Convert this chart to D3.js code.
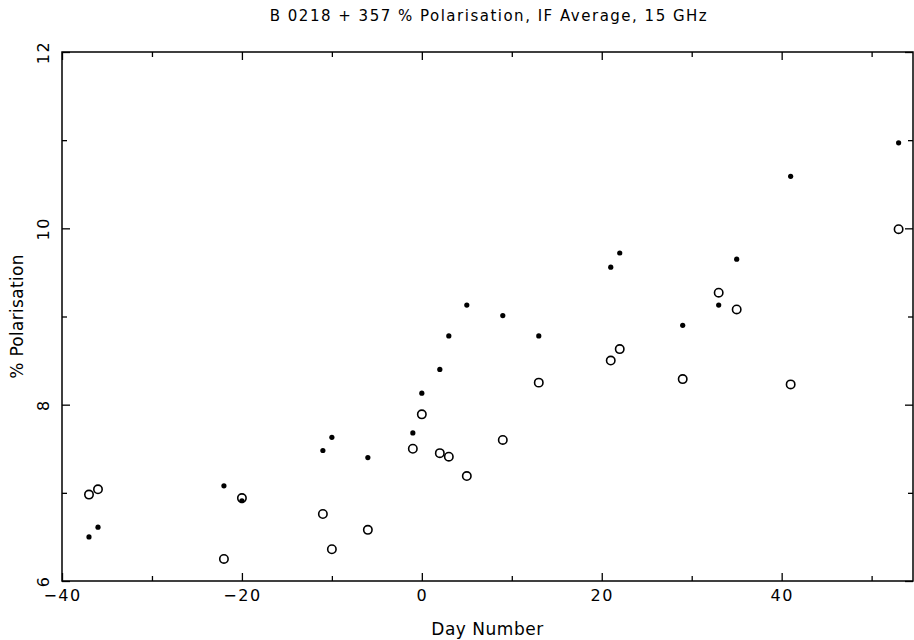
<!DOCTYPE html>
<html>
<head>
<meta charset="utf-8">
<script src="https://cdn.jsdelivr.net/npm/d3@7"></script>
<style>
  body { margin: 0; background: #fff; }
  text { font-family: "DejaVu Sans", sans-serif; fill: #000; }
</style>
</head>
<body>
<div id="chart"></div>
<script>
// Day numbers and % polarisation (filled = one series, open = the other)
const days = [-37, -36, -22, -20, -11, -10, -6, -1, 0, 2, 3, 5, 9, 13, 21, 22, 29, 33, 35, 41, 53];
const filledPol = [6.50, 6.61, 7.08, 6.91, 7.48, 7.63, 7.40, 7.68, 8.13, 8.40, 8.78, 9.13, 9.01, 8.78, 9.56, 9.72, 8.90, 9.13, 9.65, 10.59, 10.97];
const openPol = [6.98, 7.04, 6.25, 6.94, 6.76, 6.36, 6.58, 7.50, 7.89, 7.45, 7.41, 7.19, 7.60, 8.25, 8.50, 8.63, 8.29, 9.27, 9.08, 8.23, 9.99];
const xMajor = [-40, -20, 0, 20, 40];
const xMinor = [-30, -10, 10, 30, 50];
const yMajor = [6, 8, 10, 12];
const yMinor = [7, 9, 11];

const W = 914, H = 640;
const plot = {left: 62, right: 913, top: 52, bottom: 581};

const svg = d3.select("#chart").append("svg")
    .attr("width", W)
    .attr("height", H);

const x = d3.scaleLinear().domain([-40, 54.6]).range([plot.left, plot.right]);
const y = d3.scaleLinear().domain([6, 12]).range([plot.bottom, plot.top]);

const fmt = d => d < 0 ? "\u2212" + Math.abs(d) : String(d);

// frame
svg.append("rect")
    .attr("x", plot.left).attr("y", plot.top)
    .attr("width", plot.right - plot.left).attr("height", plot.bottom - plot.top)
    .attr("fill", "none").attr("stroke", "#000").attr("stroke-width", 1.5);

// helper for inward ticks
function ticks(axisFn, scale, vals, len, pos, label) {
    const g = svg.append("g")
        .attr("transform", pos)
        .call(axisFn(scale).tickValues(vals).tickSize(len).tickSizeOuter(0)
            .tickFormat(label ? fmt : ""));
    g.select(".domain").remove();
    g.selectAll("line").attr("stroke", "#000").attr("stroke-width", 1.3);
    return g;
}

// bottom axis (ticks point up, labels below)
const xb = ticks(d3.axisBottom, x, xMajor, -8, `translate(0,${plot.bottom})`, true);
xb.selectAll("text")
    .attr("y", 20).attr("dy", null)
    .attr("font-size", 16)
    .attr("letter-spacing", 1.5);
ticks(d3.axisBottom, x, xMinor.filter(v => v < 54.6), -5, `translate(0,${plot.bottom})`, false);
// top axis
ticks(d3.axisTop, x, xMajor, -8, `translate(0,${plot.top})`, false);
ticks(d3.axisTop, x, xMinor.filter(v => v < 54.6), -5, `translate(0,${plot.top})`, false);

// left axis, rotated labels
const yl = ticks(d3.axisLeft, y, yMajor, -8, `translate(${plot.left},0)`, true);
yl.selectAll("text")
    .attr("x", null).attr("dy", null)
    .attr("text-anchor", "middle")
    .attr("font-size", 16)
    .attr("letter-spacing", 1.5)
    .attr("transform", "translate(-13,0) rotate(-90)");
ticks(d3.axisLeft, y, yMinor, -5, `translate(${plot.left},0)`, false);
// right axis
ticks(d3.axisRight, y, yMajor, -8, `translate(${plot.right},0)`, false);
ticks(d3.axisRight, y, yMinor, -5, `translate(${plot.right},0)`, false);

// points
const pts = days.map((d, i) => ({day: d, f: filledPol[i], o: openPol[i]}));

svg.append("g").selectAll("circle")
    .data(pts)
    .join("circle")
    .attr("cx", d => x(d.day))
    .attr("cy", d => y(d.o))
    .attr("r", 4.2)
    .attr("fill", "none")
    .attr("stroke", "#000")
    .attr("stroke-width", 1.6);

svg.append("g").selectAll("circle")
    .data(pts)
    .join("circle")
    .attr("cx", d => x(d.day))
    .attr("cy", d => y(d.f))
    .attr("r", 2.6)
    .attr("fill", "#000");

// labels
svg.append("text")
    .attr("x", 489).attr("y", 21)
    .attr("text-anchor", "middle")
    .attr("font-size", 15)
    .attr("letter-spacing", 1.5)
    .text("B 0218 + 357 % Polarisation, IF Average, 15 GHz");

svg.append("text")
    .attr("x", (plot.left + plot.right) / 2).attr("y", 635)
    .attr("text-anchor", "middle")
    .attr("font-size", 17)
    .attr("letter-spacing", 0.5)
    .text("Day Number");

svg.append("text")
    .attr("transform", `translate(23,${(plot.top + plot.bottom) / 2}) rotate(-90)`)
    .attr("text-anchor", "middle")
    .attr("font-size", 17)
    .attr("letter-spacing", 0.3)
    .text("% Polarisation");
</script>
</body>
</html>
